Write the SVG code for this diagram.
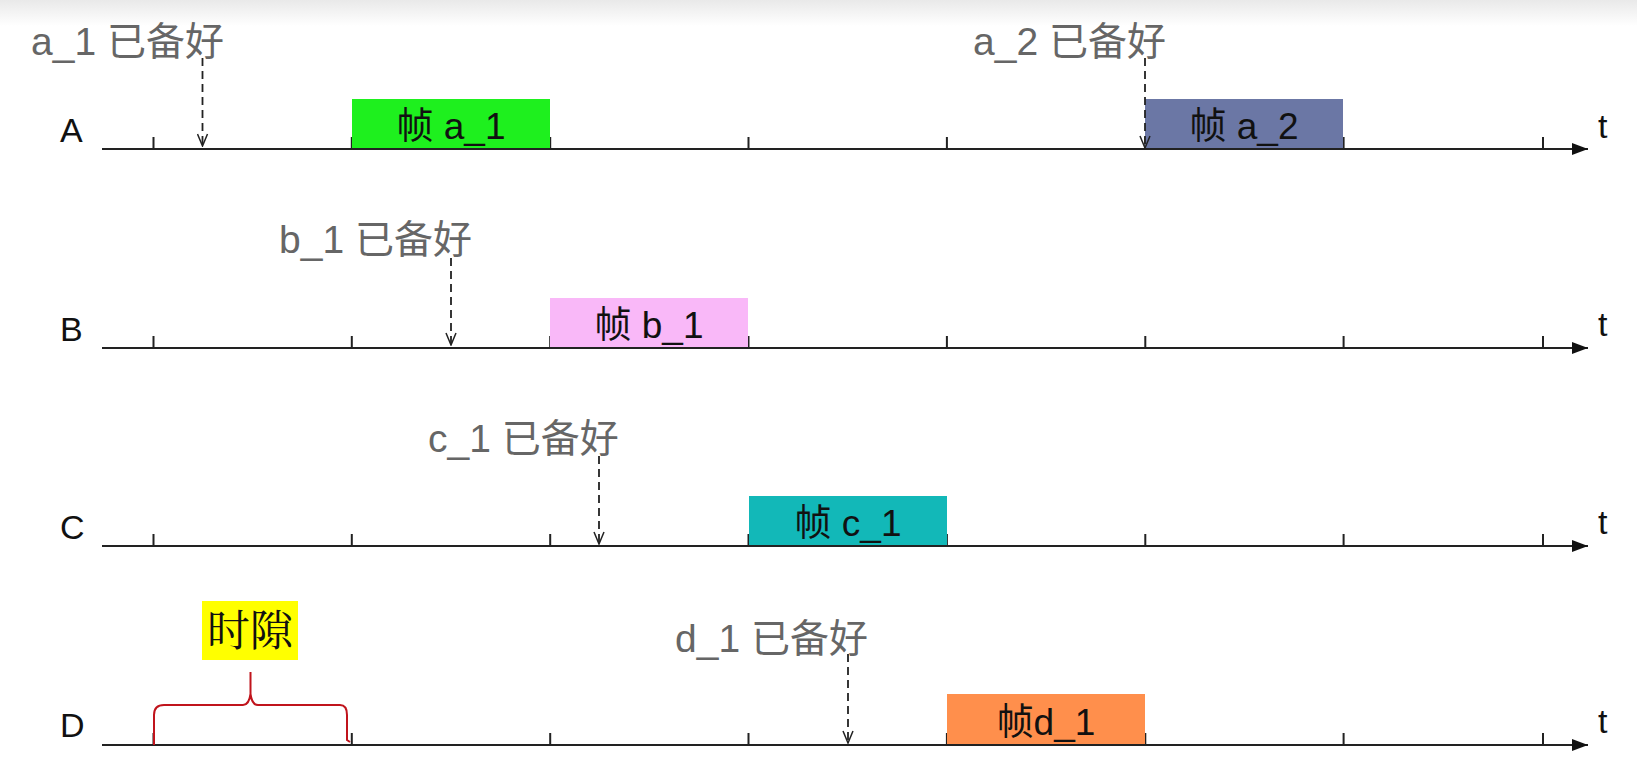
<svg xmlns="http://www.w3.org/2000/svg" width="1637" height="784" viewBox="0 0 1637 784">
<defs>
<linearGradient id="topg" x1="0" y1="0" x2="0" y2="1">
<stop offset="0" stop-color="#e9e9e9"/>
<stop offset="1" stop-color="#ffffff"/>
</linearGradient>
<marker id="ax" markerWidth="16" markerHeight="12" refX="16" refY="6" orient="auto" markerUnits="userSpaceOnUse">
<path d="M0,0 L16,6 L0,12 Z" fill="#111"/>
</marker>
<marker id="dv" markerWidth="12" markerHeight="14" refX="6" refY="13" orient="0" markerUnits="userSpaceOnUse">
<path d="M1,1 L6,13 L11,1" fill="none" stroke="#222" stroke-width="1.5"/>
</marker>
</defs>
<style>
.axis{stroke:#222;stroke-width:2.2;fill:none}
.tick{stroke:#222;stroke-width:2}
.dash{stroke:#222;stroke-width:1.8;stroke-dasharray:8,5;fill:none}
.row{font-family:"Liberation Sans","Noto Sans CJK SC",sans-serif;font-size:34px;fill:#111}
.t{font-family:"Liberation Sans",sans-serif;font-size:34px;fill:#111}
.note{font-family:"Liberation Sans","Noto Sans CJK SC",sans-serif;font-size:39px;fill:#666}
.frame{font-family:"Liberation Sans","Noto Sans CJK SC",sans-serif;font-size:37px;fill:#111;text-anchor:middle}
</style>
<rect x="0" y="0" width="1637" height="784" fill="#fff"/>
<rect x="0" y="0" width="1637" height="26" fill="url(#topg)"/>

<g id="axis-A">
<text class="row" x="60" y="142">A</text>
<line class="axis" x1="102" y1="149" x2="1588" y2="149" marker-end="url(#ax)"/>
<path class="tick" d="M153.5,149V137M351.8,149V137M550.2,149V137M748.5,149V137M946.9,149V137M1145.3,149V137M1343.6,149V137M1543,149V137"/>
<text class="t" x="1598" y="138">t</text>
</g>
<g id="axis-B">
<text class="row" x="60" y="341">B</text>
<line class="axis" x1="102" y1="348" x2="1588" y2="348" marker-end="url(#ax)"/>
<path class="tick" d="M153.5,348V336M351.8,348V336M550.2,348V336M748.5,348V336M946.9,348V336M1145.3,348V336M1343.6,348V336M1543,348V336"/>
<text class="t" x="1598" y="336">t</text>
</g>
<g id="axis-C">
<text class="row" x="60" y="539">C</text>
<line class="axis" x1="102" y1="546" x2="1588" y2="546" marker-end="url(#ax)"/>
<path class="tick" d="M153.5,546V534M351.8,546V534M550.2,546V534M748.5,546V534M946.9,546V534M1145.3,546V534M1343.6,546V534M1543,546V534"/>
<text class="t" x="1598" y="534">t</text>
</g>
<g id="axis-D">
<text class="row" x="60" y="737">D</text>
<line class="axis" x1="102" y1="745" x2="1588" y2="745" marker-end="url(#ax)"/>
<path class="tick" d="M153.5,745V733M351.8,745V733M550.2,745V733M748.5,745V733M946.9,745V733M1145.3,745V733M1343.6,745V733M1543,745V733"/>
<text class="t" x="1598" y="733">t</text>
</g>

<g id="frame-a1">
<rect x="352" y="99" width="198" height="49" fill="#1ef01e"/>
<text class="frame" x="451" y="139">帧 a_1</text>
</g>
<g id="frame-a2">
<rect x="1145" y="99" width="198" height="49" fill="#6b77a5"/>
<text class="frame" x="1244" y="139">帧 a_2</text>
</g>
<g id="frame-b1">
<rect x="550" y="298" width="198" height="49" fill="#f9b8f8"/>
<text class="frame" x="649" y="338">帧 b_1</text>
</g>
<g id="frame-c1">
<rect x="749" y="496" width="198" height="49" fill="#12b8b8"/>
<text class="frame" x="848" y="536">帧 c_1</text>
</g>
<g id="frame-d1">
<rect x="947" y="694" width="198" height="50" fill="#ff8f4c"/>
<text class="frame" x="1046" y="735">帧d_1</text>
</g>

<g id="note-a1"><text class="note" x="31" y="55">a_1 已备好</text></g>
<g id="note-a2"><text class="note" x="973" y="55">a_2 已备好</text></g>
<g id="note-b1"><text class="note" x="279" y="253">b_1 已备好</text></g>
<g id="note-c1"><text class="note" x="428" y="452">c_1 已备好</text></g>
<g id="note-d1"><text class="note" x="675" y="652">d_1 已备好</text></g>

<g id="connectors">
<line class="dash" x1="202.5" y1="58" x2="202.5" y2="146" marker-end="url(#dv)"/>
<line class="dash" x1="1145" y1="58" x2="1145" y2="148" marker-end="url(#dv)"/>
<line class="dash" x1="451" y1="258" x2="451" y2="345" marker-end="url(#dv)"/>
<line class="dash" x1="599" y1="456" x2="599" y2="544" marker-end="url(#dv)"/>
<line class="dash" x1="848" y1="654" x2="848" y2="743" marker-end="url(#dv)"/>
</g>

<g id="slot">
<rect x="202" y="601" width="96" height="59" fill="#ffff00"/>
<text x="250" y="646" text-anchor="middle" font-family="'Noto Serif CJK SC','Noto Sans CJK SC',serif" font-size="43" fill="#111">时隙</text>
<path d="M154,745 V715 Q154,705 164,705 H243 Q249,705 250.5,694 V672 M250.5,694 Q252,705 258,705 H340 Q347,705 347,715 V740 L350,742" fill="none" stroke="#c0141c" stroke-width="2"/>
</g>
</svg>
